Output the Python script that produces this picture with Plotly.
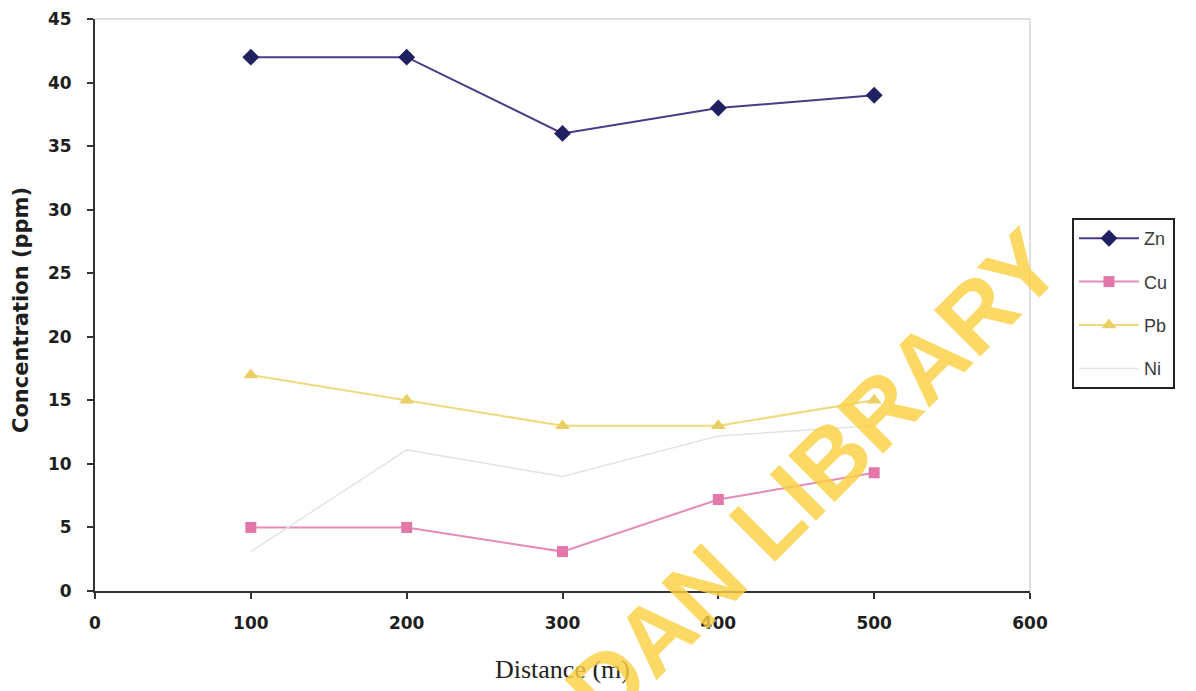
import plotly.graph_objects as go

# Sampling distances along the traverse (m)
distance = [100, 200, 300, 400, 500]

# Metal concentrations (ppm) at each distance
zn = [42, 42, 36, 38, 39]
cu = [5.0, 5.0, 3.1, 7.2, 9.3]
pb = [17, 15, 13, 13, 15]
ni = [3.1, 11.1, 9.0, 12.2, 13.0]

x_ticks = [0, 100, 200, 300, 400, 500, 600]
y_ticks = [0, 5, 10, 15, 20, 25, 30, 35, 40, 45]

W, H = 1196, 691
L, R, T, B = 95, 166, 19, 100
PW, PH = W - L - R, H - T - B

fig = go.Figure()

fig.add_trace(go.Scatter(
    x=distance, y=zn, name="Zn", mode="lines+markers", legendgroup="zn",
    line=dict(color="#4b3a86", width=2),
    marker=dict(symbol="diamond", size=13, color="#1f2160"),
))
fig.add_trace(go.Scatter(
    x=distance, y=cu, name="Cu", mode="lines+markers", legendgroup="cu",
    line=dict(color="#e68bb6", width=2),
    marker=dict(symbol="square", size=11, color="#e377a9"),
))
fig.add_trace(go.Scatter(
    x=distance, y=pb, name="Pb", mode="lines+markers", legendgroup="pb",
    line=dict(color="#f0d97a", width=2),
    marker=dict(symbol="triangle-up", size=13, color="#ead064"),
))
fig.add_trace(go.Scatter(
    x=distance, y=ni, name="Ni", mode="lines", legendgroup="ni",
    line=dict(color="#e2e2ea", width=1.5),
))

tick_font = dict(family="DejaVu Sans", size=17, color="#1e1e1e", weight="bold")

fig.update_xaxes(
    range=[0, 600], tickvals=x_ticks, ticktext=[str(v) for v in x_ticks],
    showline=True, linecolor="#333333", linewidth=2,
    ticks="outside", ticklen=6, tickwidth=2, tickcolor="#333333",
    showgrid=False, zeroline=False, automargin=False,
    tickfont=tick_font, ticklabelstandoff=10,
    title=dict(text="Distance (m)", standoff=27,
               font=dict(family="Liberation Serif, Times New Roman", size=26, color="#222222")),
)
fig.update_yaxes(
    range=[0, 45], tickvals=y_ticks, ticktext=[str(v) for v in y_ticks],
    showline=True, linecolor="#333333", linewidth=2,
    ticks="outside", ticklen=6, tickwidth=2, tickcolor="#333333",
    showgrid=False, zeroline=False, automargin=False,
    tickfont=tick_font, ticklabelstandoff=12,
)

# y-axis title placed close to the left edge
fig.add_annotation(
    text="Concentration (ppm)", xref="paper", yref="paper",
    x=(21 - L) / PW, y=(H - B - 310) / PH,
    xanchor="center", yanchor="middle", showarrow=False, textangle=-90,
    font=dict(family="DejaVu Sans", size=21, color="#1e1e1e", weight="bold"),
)

# light frame on the top and right edges of the plotting area
fig.add_shape(type="line", xref="paper", yref="paper", x0=0, x1=1, y0=1, y1=1,
              line=dict(color="#d4d4d4", width=1.5))
fig.add_shape(type="line", xref="paper", yref="paper", x0=1, x1=1, y0=0, y1=1,
              line=dict(color="#d4d4d4", width=1.5))

# library watermark
fig.add_annotation(
    text="IBADAN LIBRARY", xref="paper", yref="paper",
    x=(755 - L) / PW, y=(H - B - 535) / PH,
    xanchor="center", yanchor="middle",
    showarrow=False, textangle=-45,
    font=dict(family="Liberation Sans, Arial", size=95, weight="bold",
              color="rgba(251,208,66,0.82)"),
)

fig.update_layout(
    width=W, height=H,
    margin=dict(l=L, r=R, t=T, b=B),
    paper_bgcolor="white", plot_bgcolor="white",
    legend=dict(
        x=(1072 - L) / PW, y=(H - B - 218) / PH,
        xanchor="left", yanchor="top",
        bordercolor="#222222", borderwidth=2, bgcolor="white",
        font=dict(family="Liberation Sans, Arial", size=18, color="#3a3a3a"),
        tracegroupgap=17, itemwidth=60,
    ),
)

fig.write_html("out.html")
